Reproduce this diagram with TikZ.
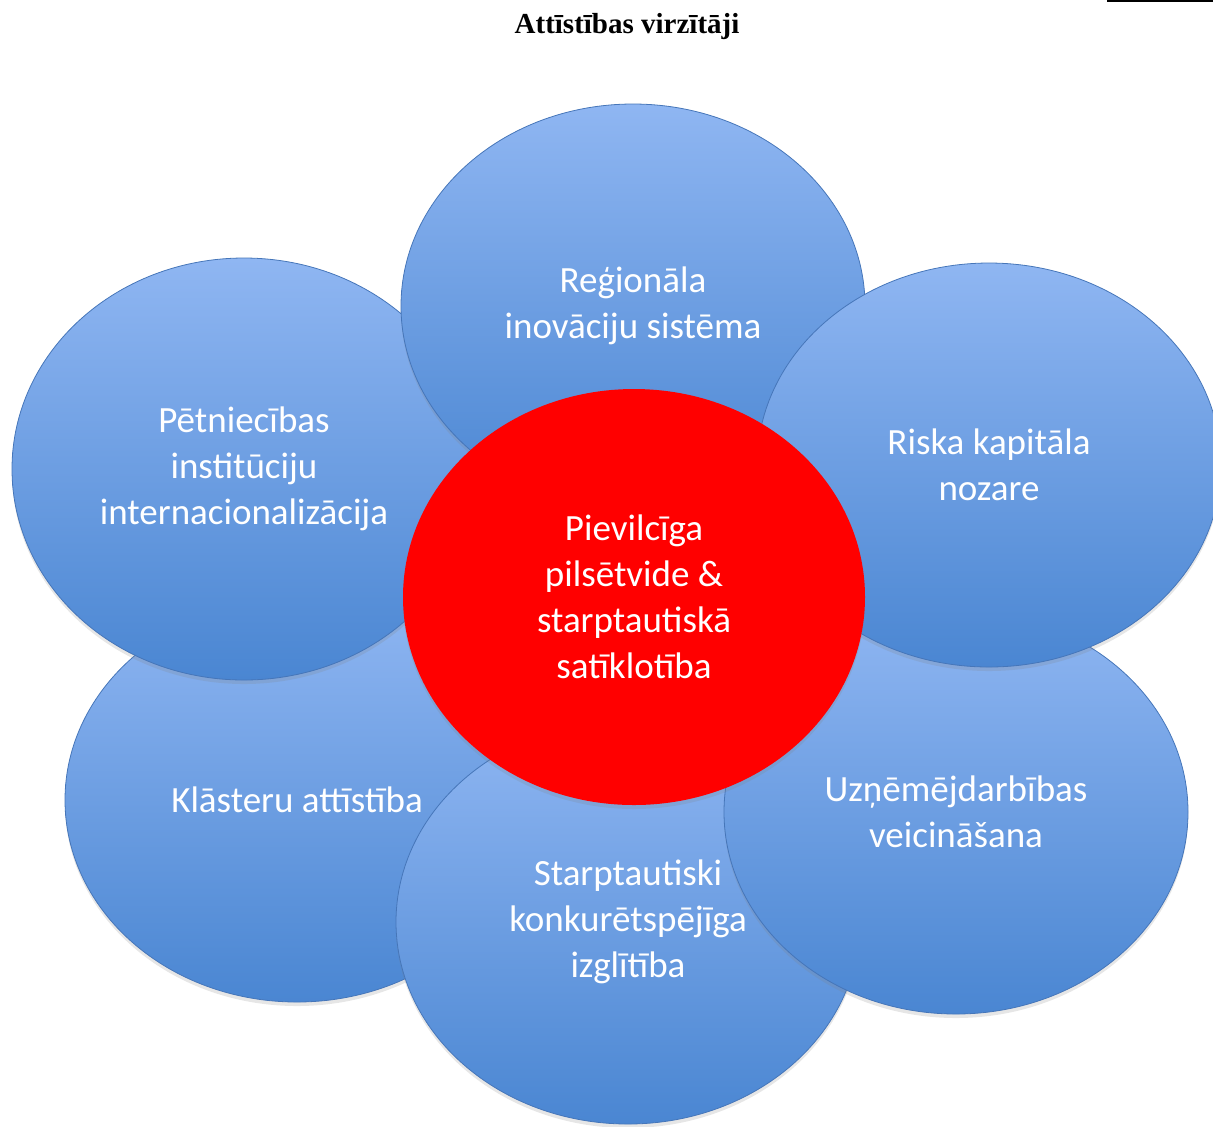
\documentclass[tikz,border=0pt]{standalone}
\usepackage{fontspec}
\setmainfont{Liberation Serif}
\newfontfamily\petalfont{Carlito}
\usetikzlibrary{shapes,positioning,shadows}

\definecolor{petaltop}{RGB}{143,182,242}
\definecolor{petalbottom}{RGB}{74,134,210}
\definecolor{petalline}{RGB}{70,118,185}

\begin{document}
\begin{tikzpicture}[x=0.5pt, y=-0.5pt,
    petal/.style={ellipse, draw=petalline, thin, top color=petaltop, bottom color=petalbottom, minimum width=232pt, minimum height=202pt, inner sep=0pt, align=center, text=white, font=\petalfont\fontsize{18.5}{23}\selectfont, drop shadow={opacity=0.2, shadow xshift=0pt, shadow yshift=-2pt}},
    hub/.style={ellipse, fill=red, minimum width=231pt, minimum height=208pt, inner sep=0pt, align=center, text=white, font=\petalfont\fontsize{18.5}{23}\selectfont, drop shadow={opacity=0.2, shadow xshift=0pt, shadow yshift=-2pt}}]
    \useasboundingbox (0,0) rectangle (1213,1126);

    % Title
    \node [font=\bfseries\fontsize{14.5}{16}\selectfont] (title) at (627,27) {Attīstības virzītāji};
    \draw [line width=1.2pt] (1107,1) -- (1213,1);

    % Petals, back to front
    \node [petal] (klast) at (297,800) {Klāsteru attīstība};
    \node [petal] (izgl) at (628,922) {Starptautiski\\ konkurētspējīga\\ izglītība};
    \node [petal] (uzn) at (956,812) {Uzņēmējdarbības\\ veicināšana};
    \node [petal, minimum height=211pt] (pet) at (244,469) {Pētniecības\\ institūciju\\ internacionalizācija};
    \node [petal] (reg) at (633,306) {Reģionāla\\ inovāciju sistēma};
    \node [petal] (riska) at (989,465) {Riska kapitāla\\ nozare};

    % Centre
    \node [hub] (centre) at (634,597) {Pievilcīga\\ pilsētvide \&\\ starptautiskā\\ satīklotība};

\end{tikzpicture}
\end{document}
